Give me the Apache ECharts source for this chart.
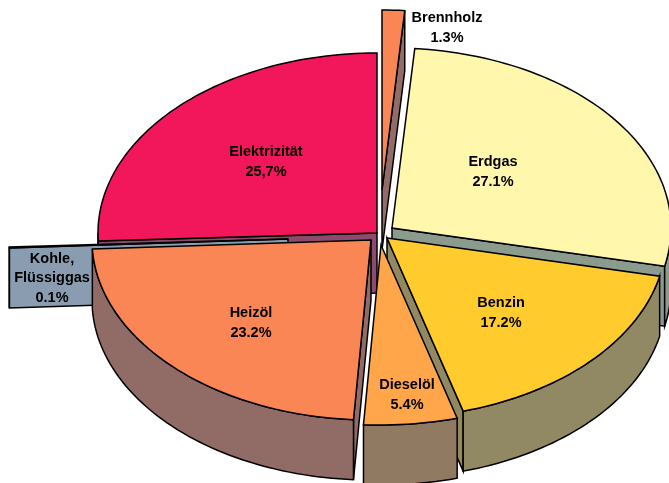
<!DOCTYPE html>
<html>
<head>
<meta charset="utf-8">
<style>html,body{margin:0;padding:0;background:#fff}#c{width:669px;height:483px}</style>
<script src="https://cdn.jsdelivr.net/npm/echarts@6/dist/echarts.min.js"></script>
</head>
<body>
<div id="c"></div>
<script>
// Data, clockwise from 12 o'clock
const categories = ['Brennholz', 'Erdgas', 'Benzin', 'Dieselöl', 'Heizöl', 'Kohle,\nFlüssiggas', 'Elektrizität'];
const shares = [1.3, 27.1, 17.2, 5.4, 23.2, 0.1, 25.7];
const shareLabels = ['1.3%', '27.1%', '17.2%', '5.4%', '23.2%', '0.1%', '25,7%'];

// Styles
const topColors = ['#fa8656', '#fff7ab', '#ffcb2d', '#ffa64b', '#fa8656', '#8a9cb0', '#f2175a'];
const wallColors = ['#926c66', '#8b9c8e', '#918964', '#917a62', '#916c66', '#8a9cb0', '#8c4a6e'];

// Layout: pie geometry, per-slice explosion, paint order, label anchors
const centerX = 381, centerY = 236, radiusX = 279, radiusY = 180, depth = 60;
const explodeX = [1, 11, 6, 0, -10, -93, -4];
const explodeY = [-46, -8, 2, 9, 4, 3, -3];
const paintOrder = [1, 2, 5, 6, 4, 3, 0];
const labelX = [447, 493, 501, 407, 251, 52, 266];
const labelY = [28, 172, 313, 395, 323, 278, 162];

const total = shares.reduce((a, b) => a + b, 0);
function rim(ax, ay, deg, drop) {
  const t = deg * Math.PI / 180;
  return [ax + radiusX * Math.sin(t), ay - radiusY * Math.cos(t) + (drop || 0)];
}
function arc(ax, ay, a, b, drop) {
  const pts = [], n = Math.max(2, Math.ceil(Math.abs(b - a) / 1.5));
  for (let i = 0; i <= n; i++) pts.push(rim(ax, ay, a + (b - a) * i / n, drop));
  return pts;
}
const line = { stroke: '#000', lineWidth: 1.5, lineJoin: 'miter' };

function renderItem(params, api) {
  const i = params.dataIndex;
  let before = 0;
  for (let k = 0; k < i; k++) before += shares[k];
  const a = before / total * 360, b = (before + api.value(0)) / total * 360;
  const ax = centerX + explodeX[i], ay = centerY + explodeY[i];
  const z = paintOrder[i] * 10;
  const wall = wallColors[i];
  const kids = [];
  const poly = (points, fill, z2) => ({
    type: 'polygon', shape: { points }, z2,
    style: Object.assign({ fill }, line)
  });
  // cut face on the start edge: faces the viewer on the left half
  if (a > 180) {
    const p = rim(ax, ay, a);
    kids.push(poly([[ax, ay], p, [p[0], p[1] + depth], [ax, ay + depth]], wall, z + 1));
  }
  // cut face on the end edge: faces the viewer on the right half
  if (b < 180) {
    const p = rim(ax, ay, b);
    kids.push(poly([[ax, ay], p, [p[0], p[1] + depth], [ax, ay + depth]], wall, z + 1));
  }
  // outer wall
  const wa = Math.max(a, 90), wb = Math.min(b, 270);
  if (wb > wa) {
    kids.push(poly(arc(ax, ay, wa, wb, 0).concat(arc(ax, ay, wb, wa, depth)), wall, z + 2));
  }
  // top face
  kids.push(poly([[ax, ay]].concat(arc(ax, ay, a, b, 0)), topColors[i], z + 3));
  // label
  kids.push({
    type: 'text', z2: 200 + i,
    style: {
      x: labelX[i], y: labelY[i],
      text: api.value(1) + '\n' + api.value(2),
      fill: '#000', align: 'center', verticalAlign: 'middle',
      font: 'bold 14.5px "Liberation Sans", Arial, sans-serif', lineHeight: 19.5
    }
  });
  return { type: 'group', children: kids };
}

const chart = echarts.init(document.getElementById('c'), null, { renderer: 'canvas' });
chart.setOption({
  backgroundColor: '#ffffff',
  animation: false,
  series: [{
    type: 'custom',
    coordinateSystem: 'none',
    renderItem,
    clip: false,
    dimensions: ['share', 'name', 'label'],
    encode: { value: 0 },
    data: shares.map((v, i) => [v, categories[i], shareLabels[i]])
  }]
});
</script>
</body>
</html>
